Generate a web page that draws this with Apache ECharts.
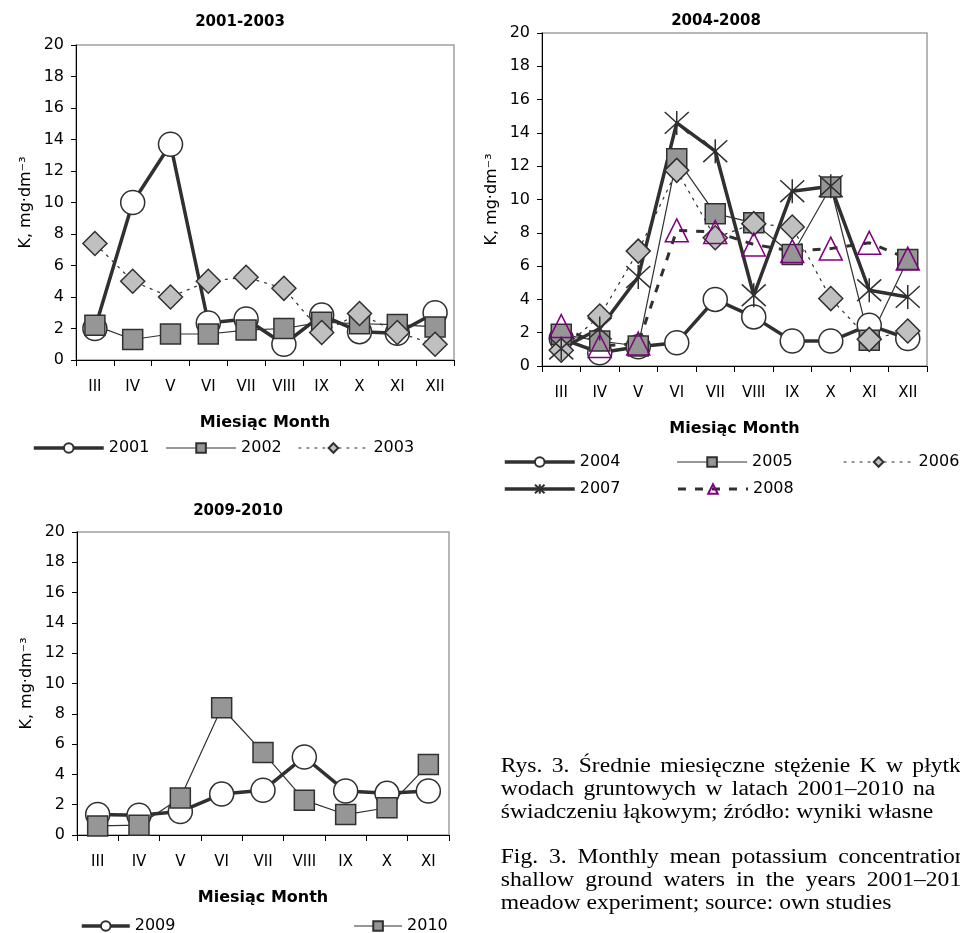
<!DOCTYPE html>
<html><head><meta charset="utf-8">
<script src="https://cdn.jsdelivr.net/npm/echarts@6/dist/echarts.min.js"></script>
<style>html,body{margin:0;padding:0;background:#fff}#c{width:960px;height:933px}</style>
</head><body><div id="c"></div>
<script>
// ---- data ----
const monthsA = ['III','IV','V','VI','VII','VIII','IX','X','XI','XII'];
const monthsB = ['III','IV','V','VI','VII','VIII','IX','X','XI'];
const yTicks = [0,2,4,6,8,10,12,14,16,18,20];

const y2001 = [2.0, 10.0, 13.7, 2.35, 2.6, 1.0, 2.85, 1.8, 1.7, 3.0];
const y2002 = [2.2, 1.3, 1.65, 1.65, 1.9, 2.0, 2.4, 2.3, 2.25, 2.1];
const y2003 = [7.4, 5.0, 4.0, 5.0, 5.25, 4.55, 1.75, 2.95, 1.75, 1.0];

const y2004 = [1.65, 0.8, 1.15, 1.4, 4.0, 2.95, 1.5, 1.5, 2.45, 1.65];
const y2005 = [1.9, 1.5, 1.2, 12.45, 9.15, 8.6, 6.7, 10.75, 1.55, 6.4];
const y2006 = [0.95, 3.0, 6.9, 11.75, 7.7, 8.55, 8.35, 4.05, 1.6, 2.1];
const y2007 = [1.05, 2.25, 5.35, 14.6, 12.9, 4.25, 10.5, 10.8, 4.55, 4.15];
const y2008 = [2.4, 1.2, 1.35, 8.15, 8.05, 7.3, 6.9, 7.05, 7.4, 6.45];

const y2009 = [1.35, 1.3, 1.55, 2.7, 2.95, 5.15, 2.9, 2.75, 2.9];
const y2010 = [0.6, 0.65, 2.45, 8.4, 5.45, 2.3, 1.35, 1.8, 4.65];

const titles = ['2001-2003', '2004-2008', '2009-2010'];
const xName = 'Miesiąc Month';
const yName = 'K, mg·dm⁻³';

const captionLines = [
  'Rys. 3. Średnie miesięczne stężenie K w płytkich',
  'wodach gruntowych w latach 2001–2010 na',
  'świadczeniu łąkowym; źródło: wyniki własne',
  'Fig. 3. Monthly mean potassium concentration in',
  'shallow ground waters in the years 2001–2010 in the',
  'meadow experiment; source: own studies'
];

// ---- styling / layout ----
const FONT = 'DejaVu Sans';
const DARK = '#303030';
const grids = [
  {left: 76, top: 45, width: 378, height: 315},
  {left: 542, top: 33, width: 385, height: 333},
  {left: 77, top: 532, width: 372, height: 303}
];

function xAxisFor(i, cats) {
  return {
    type: 'category', gridIndex: i, data: cats, boundaryGap: true,
    axisLine: {show: true, lineStyle: {color: '#000', width: 1}},
    axisTick: {show: true, length: 6, lineStyle: {color: '#000'}},
    axisLabel: {color: '#000', fontFamily: FONT, fontSize: 15, margin: 20},
    splitLine: {show: false},
    name: xName, nameLocation: 'middle', nameGap: 55,
    nameTextStyle: {fontFamily: FONT, fontWeight: 'bold', fontSize: 16, color: '#000'}
  };
}
function yAxisFor(i) {
  return {
    type: 'value', gridIndex: i, min: yTicks[0], max: yTicks[yTicks.length - 1], interval: yTicks[1] - yTicks[0],
    axisLine: {show: true, lineStyle: {color: '#000', width: 1}},
    axisTick: {show: true, length: 5, lineStyle: {color: '#000'}},
    axisLabel: {color: '#000', fontFamily: FONT, fontSize: 16, margin: 12},
    splitLine: {show: false},
    name: yName, nameLocation: 'middle', nameGap: 42, nameRotate: 90,
    nameTextStyle: {fontFamily: FONT, fontSize: 16, color: '#000'}
  };
}

const STAR = 'path://M0,0L20,20M20,0L0,20M10,-1L10,21';
const styles = {
  thickCircle: {symbol: 'circle', symbolSize: 24, lineStyle: {color: DARK, width: 3.5},
    itemStyle: {color: '#ffffff', borderColor: DARK, borderWidth: 1.5}},
  thinSquare: {symbol: 'rect', symbolSize: 20, lineStyle: {color: DARK, width: 1.2},
    itemStyle: {color: '#969696', borderColor: DARK, borderWidth: 1.5}},
  dotDiamond: {symbol: 'diamond', symbolSize: 24, lineStyle: {color: DARK, width: 1.2, type: [3, 5]},
    itemStyle: {color: '#c0c0c0', borderColor: DARK, borderWidth: 1.5}},
  thickStar: {symbol: STAR, symbolSize: 24, lineStyle: {color: DARK, width: 3.5},
    itemStyle: {color: 'rgba(0,0,0,0)', borderColor: DARK, borderWidth: 1.5}},
  dashTriangle: {symbol: 'triangle', symbolSize: 23, lineStyle: {color: DARK, width: 3, type: [8, 9]},
    itemStyle: {color: 'rgba(0,0,0,0)', borderColor: '#800080', borderWidth: 1.5}}
};
const seriesDefs = [
  ['2001', y2001, 0, 'thickCircle'],
  ['2002', y2002, 0, 'thinSquare'],
  ['2003', y2003, 0, 'dotDiamond'],
  ['2004', y2004, 1, 'thickCircle'],
  ['2005', y2005, 1, 'thinSquare'],
  ['2006', y2006, 1, 'dotDiamond'],
  ['2007', y2007, 1, 'thickStar'],
  ['2008', y2008, 1, 'dashTriangle'],
  ['2009', y2009, 2, 'thickCircle'],
  ['2010', y2010, 2, 'thinSquare']
];
const styleOf = {};
seriesDefs.forEach(d => styleOf[d[0]] = styles[d[3]]);

function line(name, data, idx, st) {
  return Object.assign({
    type: 'line', name: name, data: data, xAxisIndex: idx, yAxisIndex: idx,
    showAllSymbol: true, animation: false, silent: true, emphasis: {disabled: true}
  }, JSON.parse(JSON.stringify(styles[st])));
}

function legendItems(names) {
  return names.map(n => ({name: n, lineStyle: {width: styleOf[n].lineStyle.width, type: styleOf[n].lineStyle.type, color: DARK}}));
}
const legendBase = {
  padding: 0, itemWidth: 70, itemHeight: 12, selectedMode: false, width: 600,
  textStyle: {fontFamily: FONT, fontSize: 16, color: '#000'}
};

const graphic = [];
const titleCenters = [[240, 22], [716, 21], [238, 511]];
titles.forEach((t, i) => graphic.push({type: 'text', x: titleCenters[i][0], y: titleCenters[i][1], silent: true,
  style: {text: t, font: 'bold 15px "DejaVu Sans"', fill: '#000', align: 'center', verticalAlign: 'middle'}}));

// caption: Times-like text, horizontally stretched like the reference scan; justified lines get wider word gaps
const CAPFONT = '20px "Liberation Serif"';
const capCtx = document.createElement('canvas').getContext('2d');
capCtx.font = CAPFONT;
const capY = [767, 790, 813, 858, 881, 904];
const capGap = [7.9, 7.9, 5.0, 9.2, 9.5, 5.0];
const capChildren = [];
captionLines.forEach((ln, li) => {
  let x = 0;
  ln.split(' ').forEach(w => {
    capChildren.push({type: 'text', x: x, y: capY[li], silent: true,
      style: {text: w, font: CAPFONT, fill: '#000', align: 'left', verticalAlign: 'middle'}});
    x += capCtx.measureText(w).width + capGap[li];
  });
});
graphic.push({type: 'group', x: 500.7, y: 0, scaleX: 1.18, scaleY: 1, children: capChildren});

const option = {
  backgroundColor: '#ffffff',
  animation: false,
  grid: grids.map(g => Object.assign({show: true, borderColor: '#a0a0a0', borderWidth: 1.5, backgroundColor: 'transparent', containLabel: false}, g)),
  xAxis: [xAxisFor(0, monthsA), xAxisFor(1, monthsA), xAxisFor(2, monthsB)],
  yAxis: [yAxisFor(0), yAxisFor(1), yAxisFor(2)],
  legend: [
    Object.assign({}, legendBase, {data: legendItems(['2001', '2002', '2003']), left: 32, top: 440, itemGap: 16}),
    Object.assign({}, legendBase, {data: legendItems(['2004', '2005']), left: 503, top: 454, itemGap: 56}),
    Object.assign({}, legendBase, {data: legendItems(['2006']), left: 843, top: 454, width: 117}),
    Object.assign({}, legendBase, {data: legendItems(['2007', '2008']), left: 503, top: 481, itemGap: 56}),
    Object.assign({}, legendBase, {data: legendItems(['2009', '2010']), left: 80, top: 918, itemWidth: 48, itemGap: 178})
  ],
  series: seriesDefs.map(d => line(d[0], d[1], d[2], d[3])),
  graphic: graphic
};
const chart = echarts.init(document.getElementById('c'));
chart.setOption(option);
</script>
</body></html>
